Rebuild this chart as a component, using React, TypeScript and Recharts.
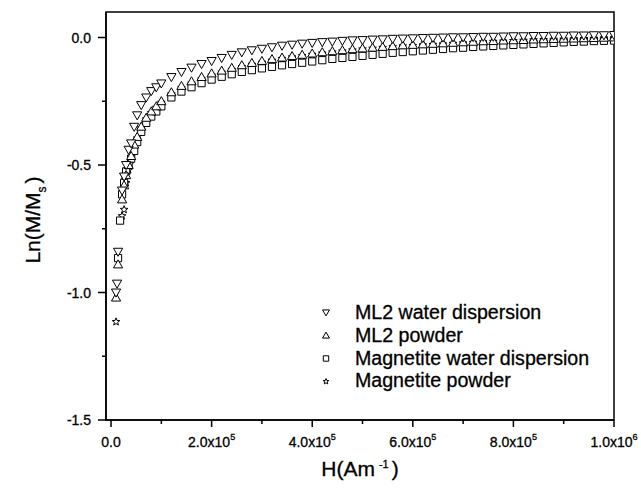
import React from "react";
import { ScatterChart, Scatter, XAxis, YAxis, ReferenceArea, Legend } from "recharts";

const FONT = '"Liberation Sans", Arial, Helvetica, sans-serif';

// applied field H (A/m), shared by all four measurements
const H = [
    10000, 12000, 14000, 18000, 22000, 26000, 30000, 35000, 40000, 46000, 52000, 60000, 70000, 80000, 90000, 100000,
    120000, 140000, 160000, 180000, 200000, 220000, 240000, 260000, 280000, 300000,
    320000, 340000, 360000, 380000, 400000, 420000, 440000, 460000, 480000, 500000,
    520000, 540000, 560000, 580000, 600000, 620000, 640000, 660000, 680000, 700000,
    720000, 740000, 760000, 780000, 800000, 820000, 840000, 860000, 880000, 900000,
    920000, 940000, 960000, 980000, 1000000,
];

// Ln(M/Ms), null where no point is visible
const ML2_WATER = [
    -1.0, -0.965, -0.84, null, -0.6, -0.545, -0.5, -0.44, -0.415, -0.35, -0.305, -0.265, -0.235, -0.21, -0.195, -0.18,
    -0.155, -0.135, -0.118, -0.104, -0.092, -0.08, -0.068, -0.058, -0.05, -0.044,
    -0.038, -0.032, -0.028, -0.024, -0.021, -0.018, -0.016, -0.013, -0.011, -0.01,
    -0.008, -0.007, -0.005, -0.004, -0.003, -0.002, -0.001, 0.0, 0.001, 0.001,
    0.002, 0.003, 0.003, 0.004, 0.005, 0.005, 0.006, 0.006, 0.007, 0.007,
    0.008, 0.008, 0.009, 0.009, 0.01,
];
const ML2_POWDER = [
    -1.02, null, -0.89, null, -0.635, -0.58, -0.54, -0.5, -0.465, -0.42, -0.39, -0.35, -0.315, -0.29, -0.27, -0.25,
    -0.215, -0.19, -0.172, -0.155, -0.141, -0.13, -0.119, -0.109, -0.1, -0.092,
    -0.085, -0.079, -0.073, -0.068, -0.063, -0.058, -0.054, -0.05, -0.046, -0.043,
    -0.04, -0.037, -0.034, -0.031, -0.029, -0.027, -0.025, -0.023, -0.021, -0.019,
    -0.017, -0.015, -0.014, -0.012, -0.011, -0.01, -0.008, -0.007, -0.006, -0.005,
    -0.004, -0.003, -0.002, -0.001, 0.0,
];
const MAGNETITE_WATER = [
    null, null, -0.865, -0.718, -0.615, -0.57, -0.525, -0.5, -0.475, -0.445, -0.41, -0.37, -0.335, -0.31, -0.29, -0.27,
    -0.235, -0.212, -0.195, -0.179, -0.165, -0.154, -0.144, -0.135, -0.128, -0.121,
    -0.115, -0.109, -0.104, -0.099, -0.094, -0.089, -0.084, -0.08, -0.076, -0.072,
    -0.068, -0.064, -0.06, -0.057, -0.054, -0.051, -0.048, -0.045, -0.042, -0.04,
    -0.037, -0.035, -0.033, -0.031, -0.029, -0.027, -0.025, -0.023, -0.021, -0.019,
    -0.017, -0.016, -0.014, -0.013, -0.012,
];
const MAGNETITE_POWDER = [
    -1.115, null, null, null, -0.7, -0.675, -0.57, -0.52, -0.48, -0.43, -0.395, -0.355, -0.32, -0.295, -0.275, -0.255,
    -0.222, -0.198, -0.18, -0.163, -0.149, -0.137, -0.126, -0.115, -0.106, -0.098,
    -0.09, -0.083, -0.077, -0.072, -0.067, -0.062, -0.058, -0.054, -0.05, -0.046,
    -0.043, -0.04, -0.037, -0.034, -0.032, -0.03, -0.028, -0.026, -0.024, -0.022,
    -0.02, -0.018, -0.016, -0.015, -0.013, -0.012, -0.01, -0.009, -0.008, -0.007,
    -0.006, -0.005, -0.004, -0.003, -0.002,
];

const LEGEND_LABELS = ["ML2 water dispersion", "ML2 powder", "Magnetite water dispersion", "Magnetite powder"];

const X_TICKS = [0, 100000, 200000, 300000, 400000, 500000, 600000, 700000, 800000, 900000, 1000000];
const X_MAJOR = [0, 200000, 400000, 600000, 800000, 1000000];
const X_LABEL_BASE = ["0.0", "2.0x10", "4.0x10", "6.0x10", "8.0x10", "1.0x10"];
const X_LABEL_EXP = ["", "5", "5", "5", "5", "6"];
const Y_TICKS = [-1.5, -1.25, -1.0, -0.75, -0.5, -0.25, 0.0];
const Y_MAJOR = [-1.5, -1.0, -0.5, 0.0];

type Kind = "down" | "up" | "square" | "star";

function markerPath(kind: Kind, cx: number, cy: number, s: number): string {
    if (kind === "down") {
        const r = 4.6 * s;
        return `M${cx - r},${cy - r * 0.75}L${cx + r},${cy - r * 0.75}L${cx},${cy + r}Z`;
    }
    if (kind === "up") {
        const r = 4.6 * s;
        return `M${cx - r},${cy + r * 0.75}L${cx + r},${cy + r * 0.75}L${cx},${cy - r}Z`;
    }
    if (kind === "square") {
        const h = 3.6 * s;
        return `M${cx - h},${cy - h}L${cx + h},${cy - h}L${cx + h},${cy + h}L${cx - h},${cy + h}Z`;
    }
    const outer = 4 * s;
    const inner = 1.7 * s;
    let d = "";
    for (let i = 0; i < 10; i++) {
        const r = i % 2 === 0 ? outer : inner;
        const a = -Math.PI / 2 + (i * Math.PI) / 5;
        d += `${i === 0 ? "M" : "L"}${cx + r * Math.cos(a)},${cy + r * Math.sin(a)}`;
    }
    return d + "Z";
}

function Marker({ cx, cy, kind, size = 1 }: { cx?: number; cy?: number; kind: Kind; size?: number }) {
    if (cx == null || cy == null) return null;
    return <path d={markerPath(kind, cx, cy, size)} fill="#fff" stroke="#000" strokeWidth={1} />;
}

function toPoints(values: (number | null)[]) {
    return H.map((h, i) => ({ h, v: values[i] })).filter((p) => p.v !== null);
}

const SERIES: { name: string; kind: Kind; values: (number | null)[] }[] = [
    { name: LEGEND_LABELS[0], kind: "down", values: ML2_WATER },
    { name: LEGEND_LABELS[1], kind: "up", values: ML2_POWDER },
    { name: LEGEND_LABELS[2], kind: "square", values: MAGNETITE_WATER },
    { name: LEGEND_LABELS[3], kind: "star", values: MAGNETITE_POWDER },
];

const textStyle = { fontFamily: FONT, fill: "#000", stroke: "#000", strokeWidth: 0.3 };

function XTick({ x, y, payload }: any) {
    const idx = X_MAJOR.indexOf(payload.value);
    const major = idx >= 0;
    return (
        <g>
            <line x1={x} x2={x} y1={y} y2={y + (major ? 7 : 4)} stroke="#000" strokeWidth={1.5} />
            {major && (
                <text x={x} y={y + 27} textAnchor="middle" fontSize={14} {...textStyle}>
                    {X_LABEL_BASE[idx]}
                    {X_LABEL_EXP[idx] && (
                        <tspan dy={-7} fontSize={9}>
                            {X_LABEL_EXP[idx]}
                        </tspan>
                    )}
                </text>
            )}
        </g>
    );
}

function YTick({ x, y, payload }: any) {
    const major = Y_MAJOR.includes(payload.value);
    return (
        <g>
            <line x1={x - (major ? 8 : 4)} x2={x} y1={y} y2={y} stroke="#000" strokeWidth={1.5} />
            {major && (
                <text x={x - 15} y={y + 5} textAnchor="end" fontSize={14} {...textStyle}>
                    {payload.value.toFixed(1)}
                </text>
            )}
        </g>
    );
}

function XTitle({ viewBox }: any) {
    const cx = viewBox.x + viewBox.width / 2;
    return (
        <text x={cx} y={viewBox.y + 56} textAnchor="middle" fontSize={21} {...textStyle}>
            H(Am
            <tspan dx={4} dy={-8} fontSize={11}>
                -1
            </tspan>
            <tspan dx={3} dy={8}>
                )
            </tspan>
        </text>
    );
}

function YTitle({ viewBox }: any) {
    const cx = 40;
    const cy = viewBox.y + viewBox.height / 2 + 4;
    return (
        <text x={cx} y={cy} transform={`rotate(-90, ${cx}, ${cy})`} textAnchor="middle" fontSize={21} {...textStyle}>
            Ln(M/M
            <tspan dy={6} fontSize={12}>
                s
            </tspan>
            <tspan dx={3} dy={-6}>
                )
            </tspan>
        </text>
    );
}

function LegendBox() {
    return (
        <div
            style={{
                fontFamily: FONT,
                fontSize: 19.6,
                lineHeight: "22.8px",
                color: "#000",
                WebkitTextStroke: "0.3px #000",
            }}
        >
            {SERIES.map((s) => (
                <div key={s.name} style={{ display: "flex", alignItems: "center", whiteSpace: "nowrap" }}>
                    <svg width={37} height={22} style={{ flex: "none" }}>
                        <Marker cx={8} cy={11.5} kind={s.kind} size={0.75} />
                    </svg>
                    <span>{s.name}</span>
                </div>
            ))}
        </div>
    );
}

export default function App() {
    const drawOrder = [SERIES[3], SERIES[2], SERIES[1], SERIES[0]];
    return (
        <div style={{ position: "absolute", left: 0, top: 0, background: "#fff" }}>
            <ScatterChart width={641} height={489} margin={{ top: 12, right: 27, bottom: 0, left: 0 }}>
                <XAxis
                    type="number"
                    dataKey="h"
                    domain={[-10000, 1000000]}
                    ticks={X_TICKS}
                    interval={0}
                    allowDataOverflow
                    height={69}
                    tickSize={0}
                    tickMargin={0}
                    tickLine={false}
                    axisLine={{ stroke: "#000", strokeWidth: 1.5 }}
                    tick={(p: any) => <XTick {...p} />}
                    label={<XTitle />}
                />
                <YAxis
                    type="number"
                    dataKey="v"
                    domain={[-1.5, 0.1]}
                    ticks={Y_TICKS}
                    interval={0}
                    allowDataOverflow
                    width={106}
                    tickSize={0}
                    tickMargin={0}
                    tickLine={false}
                    axisLine={{ stroke: "#000", strokeWidth: 1.5 }}
                    tick={(p: any) => <YTick {...p} />}
                    label={<YTitle />}
                />
                <ReferenceArea
                    x1={-10000}
                    x2={1000000}
                    y1={-1.5}
                    y2={0.1}
                    fill="none"
                    stroke="#000"
                    strokeWidth={1.5}
                    fillOpacity={0}
                />
                {drawOrder.map((s) => (
                    <Scatter
                        key={s.name}
                        name={s.name}
                        data={toPoints(s.values)}
                        isAnimationActive={false}
                        shape={(p: any) => <Marker cx={p.cx} cy={p.cy} kind={s.kind} />}
                    />
                ))}
                <Legend
                    layout="vertical"
                    align="center"
                    verticalAlign="middle"
                    content={() => <LegendBox />}
                    wrapperStyle={{ left: 318, top: 301, width: 320 }}
                />
            </ScatterChart>
        </div>
    );
}
